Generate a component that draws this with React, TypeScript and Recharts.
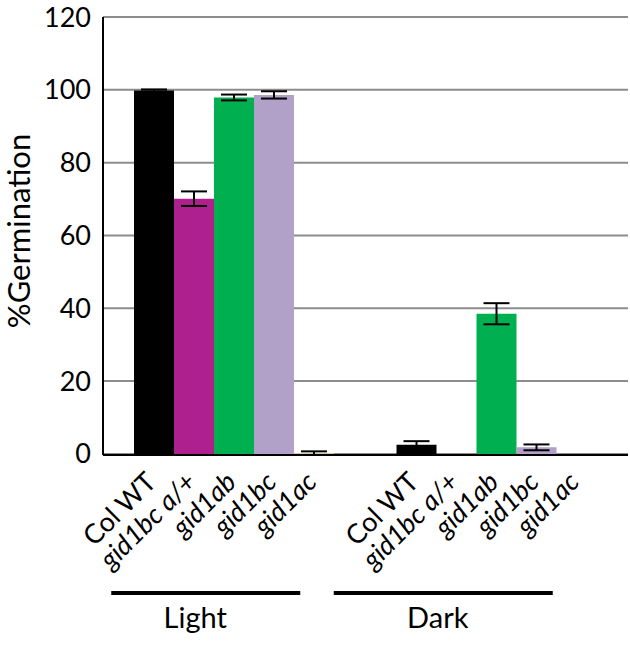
import React from 'react';
import { BarChart, Bar, XAxis, YAxis, CartesianGrid, ErrorBar } from 'recharts';

const conditions = ['Light', 'Dark'];
const genotypes = ['Col WT', 'gid1bc a/+', 'gid1ab', 'gid1bc', 'gid1ac'];
const colors = ['#000000', '#ae208e', '#00b050', '#b1a0c7', '#f2dcb4'];

// values per genotype: [Light, Dark]
const colWT = [99.8, 2.5];
const gid1bcHet = [70.1, 0];
const gid1ab = [97.9, 38.5];
const gid1bc = [98.6, 1.8];
const gid1ac = [0.2, 0];

const colWTErr = [0.3, 1.0];
const gid1bcHetErr = [2.0, 0];
const gid1abErr = [0.8, 2.9];
const gid1bcErr = [1.0, 0.8];
const gid1acErr = [0.5, 0];

const yTicks = [0, 20, 40, 60, 80, 100, 120];

const series = [colWT, gid1bcHet, gid1ab, gid1bc, gid1ac];
const errors = [colWTErr, gid1bcHetErr, gid1abErr, gid1bcErr, gid1acErr];

const data = conditions.map((c, ci) => {
  const row: Record<string, any> = { condition: c };
  genotypes.forEach((g, gi) => {
    row['v' + gi] = series[gi][ci];
    row['e' + gi] = errors[gi][ci];
  });
  return row;
});

const W = 630;
const H = 645;
const Y_AXIS_W = 103;
const RIGHT = 2;
const CAT_GAP = 31;
const BAR_W = ((W - Y_AXIS_W - RIGHT) / conditions.length - 2 * CAT_GAP) / genotypes.length;
const FONT = 'Lato, "Open Sans", sans-serif';

// decoration offsets under each group, relative to the category center
const groupDeco = [
  { lineFrom: -123, lineTo: 66, text: -39 },
  { lineFrom: -163, lineTo: 56, text: -59 },
];

// genotype names (rotated) + group bar and name under each condition
const GroupTick = (props: any) => {
  const { x, y, index } = props;
  const deco = groupDeco[index] || groupDeco[0];
  return (
    <g>
      {genotypes.map((g, gi) => {
        const bx = x + (gi - 2) * BAR_W - 3;
        const by = y + 22;
        return (
          <g key={g} transform={`translate(${bx} ${by}) rotate(-45)`}>
            <text
              x={0}
              y={0}
              dy="0.35em"
              textAnchor="end"
              fontSize={27}
              fontFamily={FONT}
              fontStyle={gi === 0 ? 'normal' : 'italic'}
              fill="#000"
            >
              {g}
            </text>
          </g>
        );
      })}
      <line x1={x + deco.lineFrom} x2={x + deco.lineTo} y1={593} y2={593} stroke="#000" strokeWidth={4} />
      <text x={x + deco.text} y={628} textAnchor="middle" fontSize={29} fontFamily={FONT} fill="#000">
        {conditions[index]}
      </text>
    </g>
  );
};

const YLabel = () => (
  <text
    x={30}
    y={231}
    transform="rotate(-90, 30, 231)"
    textAnchor="middle"
    fontSize={31}
    fontFamily={FONT}
    fill="#000"
  >
    %Germination
  </text>
);

export default function App() {
  return (
    <div style={{ position: 'absolute', left: 0, top: 0, background: '#fff' }}>
      <BarChart
        width={W}
        height={H}
        data={data}
        margin={{ top: 17, right: RIGHT, bottom: 0, left: 0 }}
        barCategoryGap={CAT_GAP}
        barGap={0}
      >
        <CartesianGrid vertical={false} stroke="#8c8c8c" strokeWidth={2} />
        <XAxis
          dataKey="condition"
          height={190}
          tickLine={false}
          tickSize={0}
          tickMargin={0}
          axisLine={{ stroke: '#000', strokeWidth: 2 }}
          tick={<GroupTick />}
          interval={0}
        />
        <YAxis
          width={Y_AXIS_W}
          domain={[0, 120]}
          ticks={yTicks}
          tickLine={false}
          tickSize={0}
          tickMargin={12}
          axisLine={{ stroke: '#000', strokeWidth: 2 }}
          tick={{ fill: '#000', fontSize: 27, fontFamily: FONT }}
          label={<YLabel />}
        />
        <YAxis
          yAxisId="right"
          orientation="right"
          width={0}
          domain={[0, 120]}
          tick={false}
          tickLine={false}
          axisLine={{ stroke: '#333', strokeWidth: 2 }}
        />
        {genotypes.map((g, gi) => (
          <Bar key={g} dataKey={'v' + gi} name={g} fill={colors[gi]} isAnimationActive={false}>
            <ErrorBar dataKey={'e' + gi} width={13} stroke="#000" strokeWidth={2} />
          </Bar>
        ))}
      </BarChart>
    </div>
  );
}
